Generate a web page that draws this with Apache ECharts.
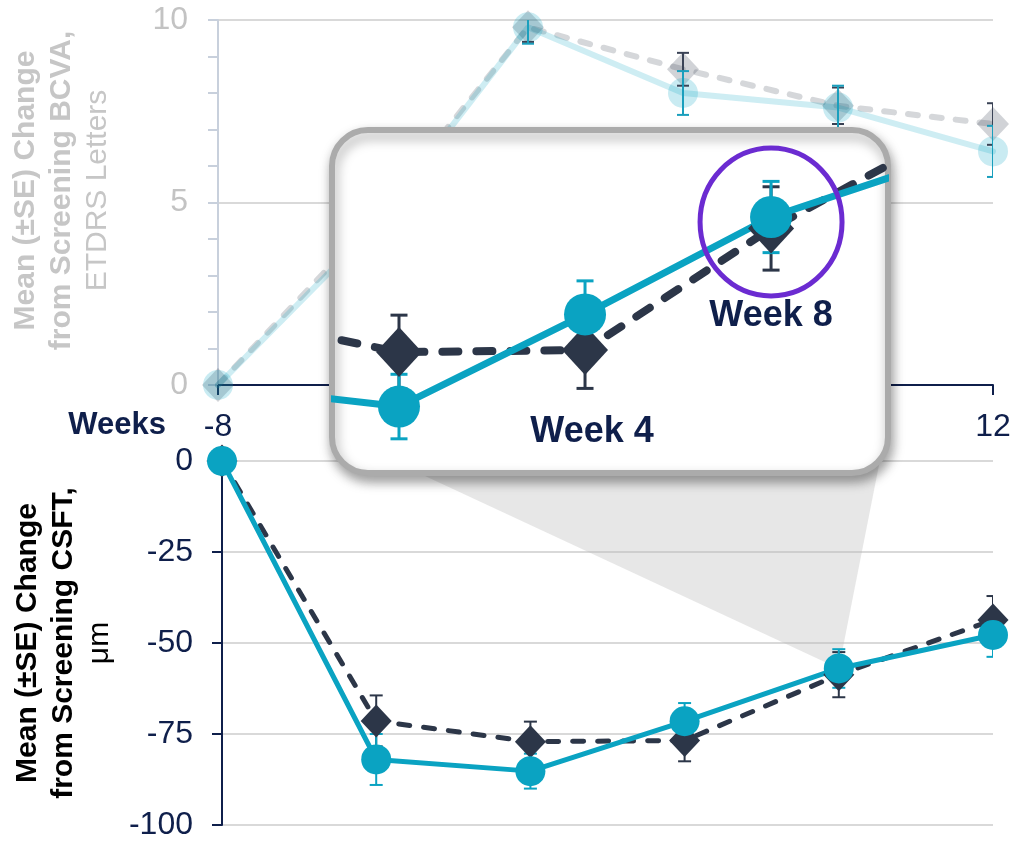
<!DOCTYPE html>
<html>
<head>
<meta charset="utf-8">
<script src="https://cdn.jsdelivr.net/npm/echarts@6/dist/echarts.min.js"></script>
<style>html,body{margin:0;padding:0;background:#fff}#main{width:1018px;height:841px}</style>
</head>
<body>
<div id="main"></div>
<script>
// weeks from screening
var weeks = [-8, -4, 0, 4, 8, 12];
// BCVA (faded, top)
var bcvaCircle = [0, 4.3, 9.8, 8.0, 7.6, 6.4];
var bcvaCircleSE = [0, 0.5, 0.45, 0.6, 0.6, 0.7];
var bcvaDiamond = [0, 4.5, 9.8, 8.65, 7.65, 7.15];
var bcvaDiamondSE = [0, 0.5, 0.4, 0.45, 0.5, 0.57];
// CSFT (bottom + zoom inset)
var csftCircle = [0, -82, -85.2, -71.5, -57, -47.8];
var csftCircleSE = [0, 7, 4.8, 5, 5.3, 6];
var csftDiamond = [0, -71.4, -77.1, -76.8, -58.7, -43.7];
var csftDiamondSE = [0, 7, 5.5, 5.7, 6.2, 6.6];
var insetGridValues = [-75, -50];
var insetLabels = [{week: 4, at: -89, text: 'Week 4', dx: 7}, {week: 8, at: -71.7, text: 'Week 8', dx: 0}];

var font = 'Arial, "Liberation Sans", sans-serif';
var cyan = '#0aa3c2', dark = '#2c3648', navy = '#0f1f4b', gridGray = '#d9d9d9';

function pairs(vals) { return weeks.map(function(w, i) { return [w, vals[i]]; }); }

function errBars(ax, vals, se, color, cap, width, z) {
  var data = [];
  weeks.forEach(function(w, i) { if (se[i] > 0) data.push([w, vals[i] - se[i], vals[i] + se[i]]); });
  return {type: 'custom', xAxisIndex: ax, yAxisIndex: ax, z: z, clip: true, silent: true,
    encode: {x: 0, y: [1, 2]}, data: data,
    renderItem: function(params, api) {
      var lo = api.coord([api.value(0), api.value(1)]), hi = api.coord([api.value(0), api.value(2)]);
      var st = {stroke: color, lineWidth: width};
      return {type: 'group', children: [
        {type: 'line', shape: {x1: lo[0], y1: lo[1], x2: hi[0], y2: hi[1]}, style: st},
        {type: 'line', shape: {x1: lo[0] - cap / 2, y1: lo[1], x2: lo[0] + cap / 2, y2: lo[1]}, style: st},
        {type: 'line', shape: {x1: hi[0] - cap / 2, y1: hi[1], x2: hi[0] + cap / 2, y2: hi[1]}, style: st}
      ]};
    }};
}

function line(ax, vals, o) {
  return {type: 'line', xAxisIndex: ax, yAxisIndex: ax, data: pairs(vals), z: o.z, silent: true, clip: true,
    symbol: o.symbol, symbolSize: o.size, showSymbol: true, animation: false,
    itemStyle: {color: o.fill, opacity: 1},
    lineStyle: {color: o.color, width: o.width, type: o.dash || 'solid', cap: 'round'}};
}

var axisName = function(color) {
  return {color: color, fontFamily: font, rich: {
    b: {fontFamily: font, fontWeight: 'bold', fontSize: 30, lineHeight: 36, color: color},
    n: {fontFamily: font, fontSize: 30, lineHeight: 36, color: color}}};
};

var chart = echarts.init(document.getElementById('main'), null, {renderer: 'canvas'});
var option = {
  animation: false,
  backgroundColor: '#fff',
  grid: [
    {left: 218, right: 25, top: 20, height: 365},
    {left: 222, right: 25, top: 461, height: 364},
    {left: 335, top: 133, width: 550, height: 337}
  ],
  xAxis: [
    {gridIndex: 0, type: 'value', min: -8, max: 12, interval: 4,
      axisLine: {onZero: false, lineStyle: {color: navy, width: 2}},
      axisTick: {show: true, length: 10, lineStyle: {color: navy, width: 2}},
      axisLabel: {color: navy, fontFamily: font, fontSize: 32, margin: 26},
      splitLine: {show: false}},
    {gridIndex: 1, type: 'value', min: -8, max: 12, interval: 4, show: false},
    {gridIndex: 2, type: 'value', min: -1.376, max: 10.45, show: false}
  ],
  yAxis: [
    {gridIndex: 0, type: 'value', min: 0, max: 10, interval: 5,
      name: '{b|Mean (±SE) Change}\n{b|from Screening BCVA,}\n{n|ETDRS Letters}',
      nameLocation: 'middle', nameRotate: 90, nameGap: 102,
      nameTextStyle: Object.assign(axisName('#c6c6c6'), {padding: [0, 0, 0, 24]}),
      axisLine: {show: true, onZero: false, lineStyle: {color: '#c8d0dc', width: 2}},
      axisTick: {show: true, length: 10, lineStyle: {color: '#c8d0dc', width: 2}},
      minorTick: {show: true, splitNumber: 5, length: 10, lineStyle: {color: '#c8d0dc', width: 2}},
      axisLabel: {color: '#c3c3c3', fontFamily: font, fontSize: 32, margin: 30},
      splitLine: {show: true, lineStyle: {color: gridGray, width: 2}}},
    {gridIndex: 1, type: 'value', min: -100, max: 0, interval: 25,
      name: '{b|Mean (±SE) Change}\n{b|from Screening CSFT,}\n{n|μm}',
      nameLocation: 'middle', nameRotate: 90, nameGap: 104,
      nameTextStyle: axisName('#000'),
      axisLine: {show: true, onZero: false, lineStyle: {color: navy, width: 2}},
      axisTick: {show: true, length: 10, lineStyle: {color: navy, width: 2}},
      axisLabel: {color: navy, fontFamily: font, fontSize: 32, margin: 29},
      splitLine: {show: true, lineStyle: {color: gridGray, width: 2}}},
    {gridIndex: 2, type: 'value', min: -94.64, max: -44.5, show: false}
  ],
  series: [
    // top, faded
    line(0, bcvaDiamond, {symbol: 'diamond', size: [32, 34], fill: 'rgba(44,54,72,0.22)', color: 'rgba(44,54,72,0.2)', width: 6, dash: [10, 14], z: 2}),
    line(0, bcvaCircle, {symbol: 'circle', size: 30, fill: 'rgba(10,163,194,0.22)', color: 'rgba(10,163,194,0.2)', width: 6, z: 2}),
    errBars(0, bcvaDiamond, bcvaDiamondSE, '#3a4356', 12, 2, 3),
    errBars(0, bcvaCircle, bcvaCircleSE, '#1a9fbd', 12, 2, 3),
    // bottom
    errBars(1, csftDiamond, csftDiamondSE, dark, 13, 2, 3),
    line(1, csftDiamond, {symbol: 'diamond', size: [31, 33], fill: dark, color: dark, width: 5, dash: [11, 14], z: 3}),
    errBars(1, csftCircle, csftCircleSE, cyan, 13, 2, 3),
    line(1, csftCircle, {symbol: 'circle', size: 30, fill: cyan, color: cyan, width: 5, z: 3}),
    // inset (zoom of CSFT)
    {type: 'line', xAxisIndex: 2, yAxisIndex: 2, data: [], z: 20, silent: true,
      markLine: {silent: true, symbol: 'none', label: {show: false}, animation: false,
        lineStyle: {color: gridGray, width: 2, type: 'solid'},
        data: insetGridValues.map(function(v) { return {yAxis: v}; })}},
    line(2, csftDiamond, {symbol: 'diamond', size: [46, 50], fill: dark, color: dark, width: 8, dash: [16, 18], z: 21}),
    errBars(2, csftDiamond, csftDiamondSE, dark, 17, 3, 21),
    errBars(2, csftCircle, csftCircleSE, cyan, 17, 3, 21),
    line(2, csftCircle, {symbol: 'circle', size: 42, fill: cyan, color: cyan, width: 7, z: 21})
  ]
};
chart.setOption(option);

var apex = chart.convertToPixel({xAxisIndex: 1, yAxisIndex: 1}, [8, csftCircle[4]]);
var ring = chart.convertToPixel({xAxisIndex: 2, yAxisIndex: 2}, [8, csftCircle[4]]);
var origin = chart.convertToPixel({xAxisIndex: 0, yAxisIndex: 0}, [weeks[0], 0]);
var graphics = [
  {type: 'polygon', z: 1, silent: true,
    shape: {points: [[425, 476], [880, 460], apex]},
    style: {fill: 'rgba(185,185,185,0.35)'}},
  {type: 'rect', z: 10, silent: true,
    shape: {x: 332, y: 130, width: 556, height: 343, r: 36},
    style: {fill: '#fff', stroke: '#ababab', lineWidth: 6, shadowBlur: 12, shadowOffsetX: 2, shadowOffsetY: 6, shadowColor: 'rgba(0,0,0,0.35)'}},
  {type: 'ellipse', z: 30, silent: true,
    shape: {cx: ring[0], cy: ring[1] + 5, rx: 71, ry: 74},
    style: {fill: 'none', stroke: '#6b2bd1', lineWidth: 5}},
  {type: 'text', z: 5, silent: true, x: origin[0] - 52, y: origin[1] + 40,
    style: {text: 'Weeks', fill: navy, font: 'bold 31px ' + font, textAlign: 'right', textVerticalAlign: 'middle'}}
];
insetLabels.forEach(function(l) {
  var p = chart.convertToPixel({xAxisIndex: 2, yAxisIndex: 2}, [l.week, l.at]);
  graphics.push({type: 'text', z: 30, silent: true, x: p[0] + l.dx, y: p[1],
    style: {text: l.text, fill: navy, font: 'bold 36px ' + font, textAlign: 'center', textVerticalAlign: 'middle'}});
});
chart.setOption({graphic: graphics});
</script>
</body>
</html>
